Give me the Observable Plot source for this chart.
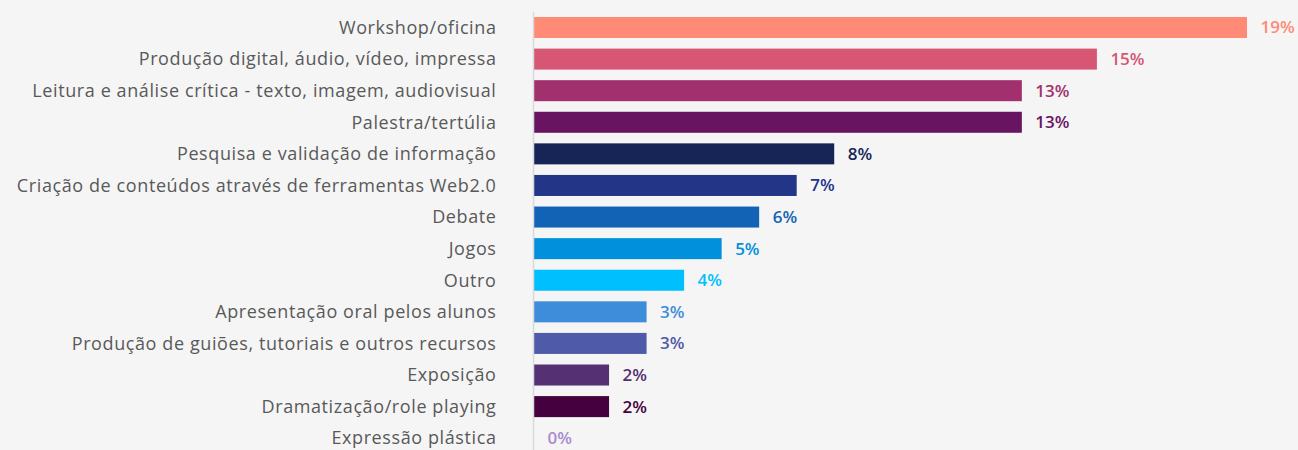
<!DOCTYPE html>
<html>
<head>
<meta charset="utf-8">
<script src="https://cdn.jsdelivr.net/npm/d3@7"></script>
<script src="https://cdn.jsdelivr.net/npm/@observablehq/plot@0.6"></script>
<style>
  html, body { margin: 0; padding: 0; background: #f5f5f5; overflow: hidden; }
  #chart { width: 1298px; height: 450px; overflow: hidden; }
</style>
</head>
<body>
<div id="chart"></div>
<script>
const categories = [
  "Workshop/oficina",
  "Produção digital, áudio, vídeo, impressa",
  "Leitura e análise crítica - texto, imagem, audiovisual",
  "Palestra/tertúlia",
  "Pesquisa e validação de informação",
  "Criação de conteúdos através de ferramentas Web2.0",
  "Debate",
  "Jogos",
  "Outro",
  "Apresentação oral pelos alunos",
  "Produção de guiões, tutoriais e outros recursos",
  "Exposição",
  "Dramatização/role playing",
  "Expressão plástica"
];
const values = [19, 15, 13, 13, 8, 7, 6, 5, 4, 3, 3, 2, 2, 0];

const palette = [
  "#ff8a75", "#d65673", "#a3306e", "#681461", "#172556", "#223586", "#1263b5",
  "#0090dc", "#00bfff", "#3d8ddb", "#4f5aa8", "#553072", "#45003f", "#a98bd0"
];

const table = categories.map((c, i) => ({cat: c, value: values[i], color: palette[i]}));

const chart = Plot.plot({
  width: 1298,
  height: 454,
  marginLeft: 534,
  marginRight: 51,
  marginTop: 11.7,
  marginBottom: 0,
  style: {background: "#f5f5f5", fontFamily: "'Open Sans', sans-serif", color: "#595959"},
  x: {domain: [0, 19], axis: null},
  y: {domain: categories, paddingInner: 0.335, paddingOuter: 0.1675, round: false, label: null},
  color: {type: "identity"},
  marks: [
    Plot.barX(table, {y: "cat", x: "value", fill: "color"}),
    Plot.ruleX([0], {stroke: "#d9d9d9", strokeWidth: 1.5, dx: -1}),
    Plot.axisY({tickSize: 0, tickPadding: 38, fontSize: 18, fill: "#595959", label: null,
      style: {letterSpacing: "0.6px"}}),
    Plot.text(table, {
      y: "cat", x: "value", text: d => d.value + "%", dx: 13, textAnchor: "start",
      fill: "color", fontSize: 17, fontWeight: 600
    })
  ]
});
chart.querySelectorAll("g[aria-label='y-axis tick label'] text").forEach(t => t.style.letterSpacing = "0.6px");
document.getElementById("chart").appendChild(chart);
</script>
</body>
</html>
